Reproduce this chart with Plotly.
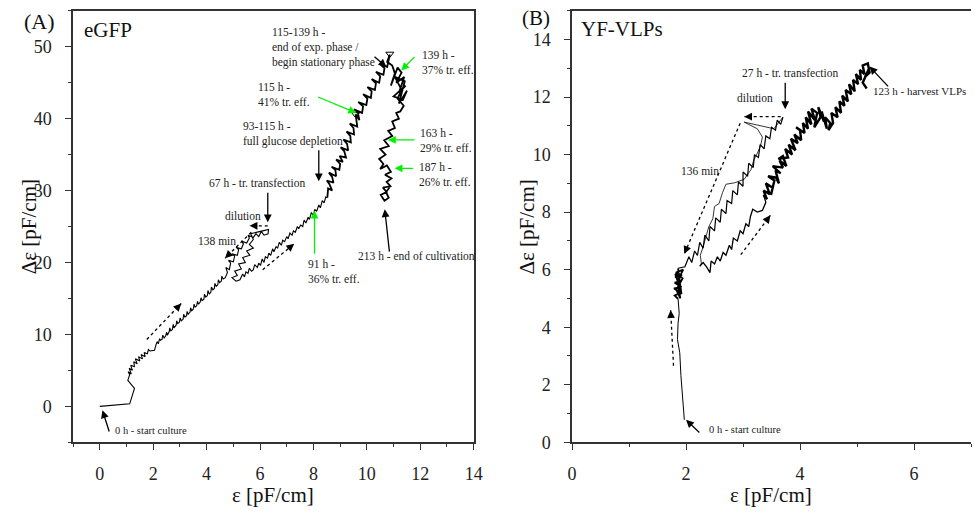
import plotly.graph_objects as go

# ---------------- Panel A (eGFP) trajectory ----------------
A_start_x = [0.0, 1.12, 1.3, 1.05, 1.12, 1.06, 1.18, 1.1, 1.22, 1.16, 1.3, 1.27, 1.4, 1.33, 1.5, 1.45, 1.6, 1.55,
             1.7, 1.66, 1.78, 1.82, 1.88, 2.05, 2.1]
A_start_y = [0.0, 0.35, 2.5, 3.6, 4.4, 4.8, 4.5, 5.3, 5.0, 5.7, 5.5, 6.2, 5.9, 6.6, 6.3, 6.9, 6.6, 7.2,
             6.9, 7.5, 7.3, 7.9, 7.7, 7.8, 8.5]

A_grow1_x = [2.15, 2.19, 2.24, 2.27, 2.33, 2.36, 2.41, 2.47, 2.5, 2.53, 2.6, 2.62, 2.66, 2.72, 2.75, 2.78, 2.86, 2.88,
             2.92, 2.98, 3.01, 3.05, 3.12, 3.14, 3.19, 3.25, 3.27, 3.31, 3.38, 3.4, 3.44, 3.5, 3.53, 3.57, 3.63, 3.66,
             3.7, 3.76, 3.79, 3.83, 3.9, 3.92, 3.97, 4.03, 4.05, 4.1, 4.16, 4.18, 4.23, 4.29, 4.31, 4.36, 4.42, 4.44,
             4.49, 4.55, 4.57, 4.62, 4.7]
A_grow1_y = [9.0, 8.7, 9.4, 9.2, 9.3, 9.9, 9.5, 9.8, 10.3, 9.9, 10.4, 10.9, 10.5, 10.7, 11.4, 10.9, 11.3, 11.9,
             11.5, 11.7, 12.3, 11.9, 12.1, 12.8, 12.4, 12.6, 13.2, 12.8, 13.1, 13.7, 13.3, 13.5, 14.2, 13.8, 14.0, 14.6,
             14.2, 14.5, 15.1, 14.7, 14.9, 15.6, 15.2, 15.4, 16.1, 15.6, 15.9, 16.6, 16.2, 16.4, 17.1, 16.7, 16.9, 17.6,
             17.2, 17.4, 18.1, 17.7, 17.9]

A_upper_x = [4.78, 4.72, 4.85, 4.9, 4.82, 5.0, 5.05, 4.95, 5.15, 5.2, 5.1, 5.3, 5.38, 5.3, 5.5, 5.6, 5.55, 5.75, 5.85,
             5.95, 6.05, 6.15, 6.3, 6.32, 6.1]
A_upper_y = [18.6, 19.3, 19.0, 19.9, 20.3, 20.1, 20.9, 21.2, 21.0, 21.8, 22.1, 21.9, 22.6, 23.0, 22.7, 23.4, 23.8, 23.5,
             24.0, 23.6, 24.3, 23.8, 24.0, 24.6, 24.4]

A_dilut_x = [5.65, 5.75, 5.6, 5.75, 5.5, 5.62, 5.35, 5.45, 5.2, 5.3, 5.05, 5.15, 4.95, 5.1, 5.25]
A_dilut_y = [24.0, 23.2, 22.5, 22.0, 21.6, 21.0, 20.7, 20.0, 19.8, 19.1, 18.8, 18.2, 17.9, 17.4, 17.6]

A_lower_x = [5.35, 5.42, 5.47, 5.55, 5.6, 5.68, 5.75, 5.8, 5.9, 5.95, 6.02, 6.08, 6.15, 6.2, 6.28, 6.33, 6.4, 6.47,
             6.52, 6.6, 6.66, 6.72, 6.8, 6.85, 6.92, 7.0, 7.05, 7.12, 7.2, 7.25, 7.32, 7.4, 7.45, 7.52, 7.6, 7.65,
             7.72, 7.8, 7.85, 7.92, 8.0, 8.05, 8.12, 8.2, 8.26, 8.33, 8.4, 8.46, 8.52]
A_lower_y = [18.4, 18.0, 18.7, 18.5, 19.2, 18.8, 19.0, 19.7, 19.3, 19.9, 19.6, 20.5, 20.0, 20.8, 20.6, 21.3, 21.0, 21.9,
             21.5, 22.2, 22.0, 22.8, 22.4, 23.1, 22.9, 23.6, 23.3, 24.1, 23.8, 24.4, 24.2, 25.0, 24.7, 25.2, 25.0, 25.9,
             25.5, 26.3, 26.0, 26.9, 26.6, 27.4, 27.1, 28.0, 27.6, 28.6, 28.3, 29.1, 29.0]

A_rise_x = [8.55, 8.7, 8.6, 8.5, 8.75, 8.7, 8.58, 8.85, 8.82, 8.68, 8.97, 9.0, 8.85, 9.1, 8.98, 9.22, 9.15, 9.02, 9.3,
            9.26, 9.12, 9.4, 9.38, 9.24, 9.52, 9.5, 9.36, 9.64, 9.58, 9.72, 9.66, 9.52, 9.82, 9.86, 9.68, 9.98, 10.02,
            9.86, 10.15, 10.18, 10.02, 10.3, 10.34, 10.18, 10.46, 10.5, 10.34, 10.62, 10.66, 10.5, 10.76, 10.86,
            10.76, 10.95]
A_rise_y = [30.3, 30.0, 30.9, 31.4, 31.1, 31.9, 32.5, 32.0, 32.9, 33.3, 32.9, 33.7, 34.3, 34.0, 34.8, 34.6, 35.5, 36.0,
            35.6, 36.5, 37.1, 36.7, 37.6, 38.2, 37.8, 38.7, 39.3, 38.9, 40.6, 39.8, 40.9, 41.3, 40.8, 41.7, 42.3, 41.9,
            42.8, 43.4, 42.9, 43.8, 44.4, 44.0, 44.9, 45.5, 45.0, 45.9, 46.5, 46.1, 47.0, 47.6, 47.2, 48.9, 47.9, 47.4]

A_top_x = [11.05, 10.9, 11.15, 11.3, 11.1, 11.4, 11.2, 11.45, 11.0, 11.35, 11.5, 11.2, 11.42, 11.05, 11.3, 11.15,
           11.38, 11.25]
A_top_y = [46.3, 44.6, 47.1, 46.4, 45.0, 45.8, 43.6, 44.6, 43.1, 42.6, 43.9, 42.1, 45.2, 45.8, 44.0, 42.8, 41.8, 41.0]

A_fall_x = [11.1, 11.2, 10.95, 11.05, 10.8, 10.95, 10.65, 10.82, 10.5, 10.7, 10.46, 10.62, 10.5, 10.75, 10.9, 10.68,
            10.92, 10.74, 10.88, 10.6, 10.74, 10.52, 10.66, 10.82, 10.72, 10.86]
A_fall_y = [40.8, 40.0, 39.6, 38.7, 38.3, 37.6, 37.0, 36.2, 35.8, 35.0, 34.4, 33.7, 33.0, 33.5, 32.6, 32.2,
            31.7, 31.2, 30.6, 30.4, 29.8, 29.4, 28.6, 29.0, 29.8, 30.5]

A_marker_x = [9.58, 10.86]
A_marker_y = [40.6, 49.0]

# ---------------- Panel B (YF-VLPs) trajectory ----------------
B_start_x = [1.97, 1.94, 1.91, 1.89, 1.85, 1.86, 1.88, 1.86]
B_start_y = [0.78, 1.52, 2.32, 3.11, 3.57, 4.14, 4.48, 4.99]

B_clust_x = [1.8, 1.9, 1.79, 1.92, 1.8, 1.91, 1.81, 1.93, 1.82, 1.95, 1.85, 1.9, 1.83, 1.94, 1.81, 1.88, 1.92, 1.86]
B_clust_y = [5.1, 5.2, 5.35, 5.4, 5.55, 5.6, 5.75, 5.8, 5.9, 6.0, 5.6, 5.0, 5.3, 5.7, 5.85, 5.45, 5.15, 6.05]

B_left_x = [1.98, 2.05, 2.1, 2.15, 2.2, 2.24, 2.3, 2.33, 2.4, 2.42, 2.5, 2.52, 2.6, 2.62, 2.7, 2.72, 2.8, 2.82, 2.9,
            2.92, 3.0, 3.0, 3.08, 3.1, 3.18, 3.2, 3.27, 3.3, 3.37, 3.4, 3.47, 3.5, 3.57, 3.6, 3.66, 3.7]
B_left_y = [6.1, 6.45, 6.25, 6.65, 6.5, 6.95, 6.75, 7.2, 7.0, 7.5, 7.35, 7.8, 7.65, 8.1, 7.95, 8.4, 8.3, 8.75, 8.6,
            9.05, 8.9, 9.4, 9.25, 9.7, 9.55, 10.0, 9.9, 10.35, 10.2, 10.65, 10.55, 10.95, 10.85, 11.2, 11.05, 11.3]

B_dilut_x = [3.54, 3.02, 3.25, 3.34, 3.31, 3.25, 3.19, 3.14, 3.02, 2.85, 2.7, 2.64, 2.58, 2.5, 2.47, 2.4, 2.35, 2.3,
             2.25, 2.27]
B_dilut_y = [10.9, 11.13, 10.9, 10.61, 10.33, 10.04, 9.82, 9.48, 9.14, 9.02, 8.97, 8.68, 8.3, 8.2, 7.77, 7.5, 7.1,
             6.8, 6.5, 6.2]

B_right1_x = [2.24, 2.3, 2.36, 2.42, 2.44, 2.5, 2.55, 2.6, 2.65, 2.7, 2.76, 2.8, 2.83, 2.9, 2.95, 3.0, 3.05, 3.1,
              3.13, 3.17, 3.25, 3.34, 3.4, 3.36]
B_right1_y = [6.12, 6.25, 6.1, 5.9, 6.3, 6.2, 6.45, 6.3, 6.6, 6.5, 6.85, 6.7, 7.1, 7.0, 7.35, 7.25, 7.6, 7.5,
              7.85, 8.1, 8.0, 8.06, 8.34, 8.6]

B_band_x = [3.42, 3.36, 3.47, 3.4, 3.52, 3.49, 3.55, 3.44, 3.58, 3.63, 3.57, 3.66, 3.52, 3.7, 3.64, 3.76, 3.7, 3.62,
            3.79, 3.74, 3.86, 3.8, 3.92, 3.84, 3.96, 3.9, 4.02, 4.0, 3.93, 4.08, 4.05, 4.14, 4.1, 4.2, 4.14, 4.26,
            4.2, 4.3, 4.25, 4.36, 4.32, 4.42, 4.38, 4.47, 4.44, 4.53, 4.5, 4.58]
B_band_y = [8.45, 8.75, 8.62, 9.0, 8.85, 8.6, 9.1, 9.25, 9.2, 9.0, 9.45, 9.35, 9.6, 9.55, 9.8, 9.6, 9.95, 9.85,
            9.9, 10.2, 10.0, 10.35, 10.15, 10.55, 10.4, 10.7, 10.5, 10.85, 10.95, 10.75, 11.1, 10.9, 11.3, 11.05,
            11.5, 11.2, 11.6, 11.45, 10.95, 11.3, 11.65, 11.15, 11.5, 10.9, 11.3, 11.1, 10.85, 11.1]

B_top_x = [4.55, 4.66, 4.62, 4.72, 4.69, 4.78, 4.74, 4.84, 4.8, 4.9, 4.86, 4.96, 4.93, 5.02, 4.98, 5.07, 5.05, 5.13,
           5.1, 5.19, 5.22, 5.14, 5.2, 5.1, 5.17]
B_top_y = [11.45, 11.3, 11.65, 11.45, 11.85, 11.7, 12.05, 11.85, 12.25, 12.1, 12.45, 12.2, 12.6, 12.45, 12.8, 12.6,
           12.95, 12.8, 13.1, 13.17, 12.85, 12.7, 12.95, 12.5, 12.3]

# ---------------- layout geometry ----------------
W, H = 980, 518
XA_DOM = [70 / W, 476 / W]
XB_DOM = [575.7 / W, 1.0]
Y_DOM = [1 - 451 / H, 1 - 11 / H]
XA_RANGE, YA_RANGE = [-1, 14], [-5, 55]
XB_RANGE, YB_RANGE = [0, 7.0], [0, 15]

SERIF = "Liberation Serif"
GREEN = "#00f000"
AX_COLOR = "#333333"

fig = go.Figure()

def path(xs, ys, xr, yr, width):
    fig.add_trace(go.Scatter(x=xs, y=ys, mode="lines", line=dict(color="black", width=width),
                             xaxis=xr, yaxis=yr, showlegend=False, hoverinfo="skip"))

# panel A: thin and dense parts drawn as one continuous path, dense parts thicker
path(A_start_x + A_grow1_x + A_upper_x + A_dilut_x + A_lower_x,
     A_start_y + A_grow1_y + A_upper_y + A_dilut_y + A_lower_y, "x", "y", 1.1)
path(A_lower_x[-1:] + A_rise_x + A_top_x + A_fall_x,
     A_lower_y[-1:] + A_rise_y + A_top_y + A_fall_y, "x", "y", 1.8)
fig.add_trace(go.Scatter(x=A_marker_x, y=A_marker_y, mode="markers",
                         marker=dict(symbol="triangle-down-open", size=7, color="black", line=dict(width=1)),
                         xaxis="x", yaxis="y", showlegend=False, hoverinfo="skip"))

# panel B
path(B_start_x, B_start_y, "x2", "y2", 1.0)
path(B_start_x[-1:] + B_clust_x, B_start_y[-1:] + B_clust_y, "x2", "y2", 1.8)
path(B_clust_x[-1:] + B_left_x, B_clust_y[-1:] + B_left_y, "x2", "y2", 1.2)
path(B_left_x[-1:] + B_dilut_x, B_left_y[-1:] + B_dilut_y, "x2", "y2", 0.8)
path(B_dilut_x[-1:] + B_right1_x, B_dilut_y[-1:] + B_right1_y, "x2", "y2", 1.3)
path(B_right1_x[-1:] + B_band_x + B_top_x, B_right1_y[-1:] + B_band_y + B_top_y, "x2", "y2", 2.4)

# px per data unit for each panel
def scale(dom, rng, length):
    return (dom[1] - dom[0]) * length / (rng[1] - rng[0])

SA = (scale(XA_DOM, XA_RANGE, W), scale(Y_DOM, YA_RANGE, H))
SB = (scale(XB_DOM, XB_RANGE, W), scale(Y_DOM, YB_RANGE, H))

annotations = []

def solid_arrow(panel, x0, y0, x1, y1, color="black"):
    xr, yr = ("x", "y") if panel == "A" else ("x2", "y2")
    annotations.append(dict(x=x1, y=y1, ax=x0, ay=y0, xref=xr, yref=yr, axref=xr, ayref=yr,
                            text="", showarrow=True, arrowhead=2, arrowsize=1.2, arrowwidth=1.3,
                            arrowcolor=color))

def dotted_arrow(panel, x0, y0, x1, y1):
    xr, yr = ("x", "y") if panel == "A" else ("x2", "y2")
    sx, sy = SA if panel == "A" else SB
    fig.add_trace(go.Scatter(x=[x0, x1], y=[y0, y1], mode="lines",
                             line=dict(color="black", width=1.3, dash="dot"),
                             xaxis=xr, yaxis=yr, showlegend=False, hoverinfo="skip"))
    dx, dy = (x1 - x0) * sx, -(y1 - y0) * sy
    n = (dx * dx + dy * dy) ** 0.5
    annotations.append(dict(x=x1, y=y1, ax=-dx / n * 9, ay=-dy / n * 9, xref=xr, yref=yr,
                            text="", showarrow=True, arrowhead=2, arrowsize=1.2, arrowwidth=1.3,
                            arrowcolor="black"))

def label(panel, x, y, text, xanchor="left", yanchor="top", size=11.5):
    xr, yr = ("x", "y") if panel == "A" else ("x2", "y2")
    annotations.append(dict(x=x, y=y, xref=xr, yref=yr, text=text, showarrow=False,
                            xanchor=xanchor, yanchor=yanchor, align="left",
                            font=dict(family=SERIF, size=size, color="#222")))

# Panel A arrows
solid_arrow("A", 0.37, -3.7, 0.1, -0.55)
solid_arrow("A", 6.29, 29.9, 6.29, 25.6)
solid_arrow("A", 8.2, 35.8, 8.2, 31.3)
solid_arrow("A", 10.23, 48.8, 10.73, 47.2)
solid_arrow("A", 10.85, 21.3, 10.67, 27.4)
solid_arrow("A", 8.12, 43.1, 9.6, 40.8, GREEN)
solid_arrow("A", 11.84, 48.8, 11.29, 46.7, GREEN)
solid_arrow("A", 11.84, 37.05, 10.79, 37.05, GREEN)
solid_arrow("A", 11.78, 33.1, 11.04, 33.1, GREEN)
solid_arrow("A", 8.04, 21.0, 8.04, 27.2, GREEN)
dotted_arrow("A", 6.29, 25.1, 5.61, 25.1)
dotted_arrow("A", 5.67, 24.2, 4.69, 20.6)
dotted_arrow("A", 6.1, 19.0, 7.28, 22.6)
dotted_arrow("A", 1.76, 9.3, 3.05, 14.3)

# Panel A labels
label("A", 6.38, 53.2, "115-139 h -<br>end of exp. phase /<br>begin stationary phase")
label("A", 5.86, 45.5, "115 h -<br>41% tr. eff.")
label("A", 5.3, 40.1, "93-115 h -<br>full glucose depletion")
label("A", 5.89, 31.05, "67 h - tr. transfection", xanchor="center", yanchor="middle")
label("A", 4.6, 26.4, "dilution", yanchor="middle")
label("A", 3.6, 23.0, "138 min", yanchor="middle")
label("A", 7.73, 20.94, "91 h -<br>36% tr. eff.")
label("A", 9.6, 20.9, "213 h - end of cultivation", yanchor="middle")
label("A", 11.99, 50.0, "139 h -<br>37% tr. eff.")
label("A", 11.93, 39.1, "163 h -<br>29% tr. eff.")
label("A", 11.89, 34.35, "187 h -<br>26% tr. eff.")
label("A", 0.49, -3.37, "0 h - start culture", yanchor="middle", size=10.5)

# Panel B arrows
solid_arrow("B", 3.74, 12.55, 3.74, 11.58)
solid_arrow("B", 2.26, 0.29, 2.0, 0.78)
solid_arrow("B", 5.57, 12.32, 5.22, 13.06)
dotted_arrow("B", 3.66, 11.32, 3.02, 11.32)
dotted_arrow("B", 2.95, 11.09, 1.97, 6.55)
dotted_arrow("B", 2.96, 6.52, 3.48, 7.89)
dotted_arrow("B", 1.78, 2.66, 1.73, 4.59)

# Panel B labels
label("B", 3.83, 12.83, "27 h - tr. transfection", xanchor="center", yanchor="middle")
label("B", 2.86, 11.97, "dilution", yanchor="middle")
label("B", 1.88, 9.42, "136 min", yanchor="middle")
label("B", 2.36, 0.46, "0 h - start culture", yanchor="middle", size=10.5)
label("B", 5.24, 12.2, "123 h - harvest VLPs", yanchor="middle", size=11)

# Panel titles and axis titles (paper coordinates)
def ptext(x, y, text, size, xanchor="left", yanchor="middle", angle=0):
    annotations.append(dict(x=x, y=y, xref="paper", yref="paper", text=text, showarrow=False,
                            xanchor=xanchor, yanchor=yanchor, textangle=angle,
                            font=dict(family=SERIF, size=size, color="#111")))

ptext(18 / W, 1 - 22 / H, "(A)", 22)
ptext(79 / W, 1 - 31 / H, "eGFP", 21)
ptext(523 / W, 1 - 18 / H, "(B)", 21)
ptext(582.7 / W, 1 - 30 / H, "YF-VLPs", 21)
ptext(273 / W, 1 - 505 / H, "ε [pF/cm]", 21, xanchor="center")
ptext(777.8 / W, 1 - 505 / H, "ε [pF/cm]", 21, xanchor="center")
ptext(25 / W, 1 - 231 / H, "Δε [pF/cm]", 21, xanchor="center", angle=-90)
ptext(530 / W, 1 - 231 / H, "Δε [pF/cm]", 21, xanchor="center", angle=-90)

common = dict(showgrid=False, zeroline=False, showline=True, linecolor=AX_COLOR, linewidth=1.5,
              ticks="outside", ticklen=6, tickwidth=1.3, tickcolor=AX_COLOR,
              tickfont=dict(family=SERIF, size=18, color="#222"))

fig.update_layout(
    width=W, height=H, margin=dict(l=0, r=0, t=0, b=0),
    paper_bgcolor="white", plot_bgcolor="white",
    font=dict(family=SERIF),
    xaxis=dict(domain=XA_DOM, range=XA_RANGE, anchor="y", tick0=0, dtick=2, mirror=True, ticklabelstandoff=8,
               minor=dict(dtick=1, ticklen=3, ticks="outside", tickcolor=AX_COLOR), **common),
    yaxis=dict(domain=Y_DOM, range=YA_RANGE, anchor="x", tick0=0, dtick=10, mirror=True, ticklabelstandoff=10,
               minor=dict(dtick=5, ticklen=3, ticks="outside", tickcolor=AX_COLOR), **common),
    xaxis2=dict(domain=XB_DOM, range=XB_RANGE, anchor="y2", tick0=0, dtick=2, mirror=True, ticklabelstandoff=8,
                minor=dict(dtick=1, ticklen=3, ticks="outside", tickcolor=AX_COLOR), **common),
    yaxis2=dict(domain=Y_DOM, range=YB_RANGE, anchor="x2", tick0=0, dtick=2, mirror=False, ticklabelstandoff=10,
                minor=dict(dtick=1, ticklen=3, ticks="outside", tickcolor=AX_COLOR), **common),
    annotations=annotations,
)

fig.write_html("out.html")
